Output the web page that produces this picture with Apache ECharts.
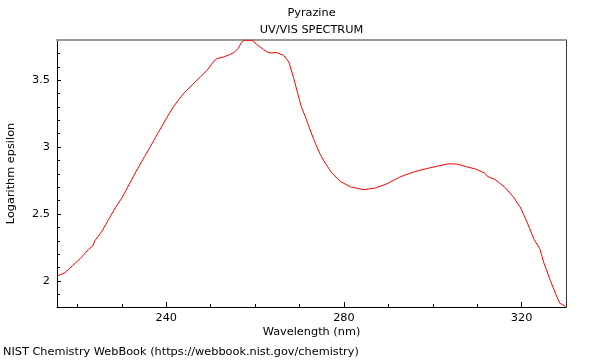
<!DOCTYPE html>
<html>
<head>
<meta charset="utf-8">
<script src="https://cdn.jsdelivr.net/npm/echarts@6/dist/echarts.min.js"></script>
<style>html,body{margin:0;padding:0;background:#fff}#c{width:600px;height:360px}</style>
</head>
<body>
<div id="c"></div>
<script>
const wavelengths = [215.4,217.2,218.8,220.6,222.5,223.4,224.0,225.5,227.0,228.5,230.0,231.1,233.0,235.1,236.0,238.3,239.8,241.6,243.9,245.8,247.7,249.2,250.7,251.4,252.9,254.3,255.2,256.2,256.9,257.6,259.3,260.4,261.9,263.2,264.9,266.4,267.6,268.7,269.5,270.4,271.3,272.1,273.4,274.7,275.8,277.3,279.2,281.5,284.5,287.1,289.7,292.6,293.9,296.1,299.1,301.4,303.6,305.5,307.4,309.6,311.7,312.3,314.1,316.4,318.3,319.8,321.3,322.8,324.1,325.0,326.5,327.7,328.6,329.9];
const logEpsilon = [2.036,2.062,2.111,2.166,2.235,2.260,2.304,2.371,2.458,2.545,2.620,2.687,2.806,2.929,2.979,3.115,3.202,3.301,3.401,3.463,3.525,3.574,3.641,3.661,3.673,3.691,3.706,3.736,3.781,3.798,3.798,3.766,3.728,3.703,3.706,3.686,3.636,3.513,3.413,3.301,3.227,3.153,3.041,2.942,2.880,2.806,2.743,2.702,2.682,2.694,2.726,2.776,2.793,2.818,2.843,2.860,2.875,2.873,2.855,2.836,2.806,2.781,2.756,2.694,2.620,2.545,2.434,2.310,2.240,2.136,2.001,1.900,1.833,1.809];
const xLabels = [240, 280, 320];
const xMinorTicks = [220, 230, 250, 260, 270, 290, 300, 310];
const yLabels = [2, 2.5, 3, 3.5];
const yMinorTicks = [1.9, 2.1, 2.2, 2.3, 2.4, 2.6, 2.7, 2.8, 2.9, 3.1, 3.2, 3.3, 3.4, 3.6, 3.7];

const X_MIN = 215.4, X_MAX = 330, Y_MIN = 1.805, Y_MAX = 3.80;
const FONT = 'DejaVu Sans';
const FS = 11.3;
const chart = echarts.init(document.getElementById('c'), null, {renderer: 'canvas'});
const base = {min: X_MIN, max: X_MAX, type: 'value', splitLine: {show: false}};
const ybase = {min: Y_MIN, max: Y_MAX, type: 'value', splitLine: {show: false}};
function txt(text, x, y, align, rotation) {
  return {type: 'text', x: x, y: y, rotation: rotation || 0, silent: true,
    style: {text: text, fill: '#000', font: FS + 'px "' + FONT + '"', align: align, verticalAlign: 'middle'}};
}
chart.setOption({
  animation: false,
  backgroundColor: '#fff',
  graphic: [
    txt('Pyrazine', 311.5, 13, 'center'),
    txt('UV/VIS SPECTRUM', 311.5, 30, 'center'),
    txt('Wavelength (nm)', 311.5, 332.5, 'center'),
    txt('Logarithm epsilon', 11, 173.5, 'center', Math.PI / 2),
    txt('NIST Chemistry WebBook (https://webbook.nist.gov/chemistry)', 3, 352, 'left')
  ],
  grid: {left: 57, right: 34, top: 40, bottom: 53, containLabel: false},
  xAxis: [
    Object.assign({}, base, {position: 'bottom',
      axisLine: {show: true, onZero: false, lineStyle: {color: '#000', width: 1}},
      axisTick: {show: true, inside: true, length: 5, customValues: xLabels, lineStyle: {color: '#000'}},
      axisLabel: {show: true, customValues: xLabels, fontFamily: FONT, fontSize: FS, color: '#000', margin: 6}}),
    Object.assign({}, base, {position: 'bottom', axisLine: {show: false, onZero: false},
      axisTick: {show: true, inside: true, length: 3, customValues: xMinorTicks, lineStyle: {color: '#000'}},
      axisLabel: {show: false}}),
    Object.assign({}, base, {position: 'top', axisLine: {show: true, onZero: false, lineStyle: {color: '#999', width: 2}},
      axisTick: {show: false}, axisLabel: {show: false}})
  ],
  yAxis: [
    Object.assign({}, ybase, {position: 'left',
      axisLine: {show: true, onZero: false, lineStyle: {color: '#000', width: 1}},
      axisTick: {show: true, inside: true, length: 4, customValues: yLabels, lineStyle: {color: '#000'}},
      axisLabel: {show: true, customValues: yLabels, fontFamily: FONT, fontSize: FS, color: '#000', margin: 7}}),
    Object.assign({}, ybase, {position: 'left', axisLine: {show: false, onZero: false},
      axisTick: {show: true, inside: true, length: 3, customValues: yMinorTicks, lineStyle: {color: '#000'}},
      axisLabel: {show: false}}),
    Object.assign({}, ybase, {position: 'right', axisLine: {show: true, onZero: false, lineStyle: {color: '#333', width: 1}},
      axisTick: {show: false}, axisLabel: {show: false}})
  ],
  series: [{
    type: 'line', xAxisIndex: 0, yAxisIndex: 0, showSymbol: false, symbol: 'none',
    lineStyle: {color: '#ff0000', width: 1}, clip: true,
    data: wavelengths.map((w, i) => [w, logEpsilon[i]])
  }]
});
</script>
</body>
</html>
